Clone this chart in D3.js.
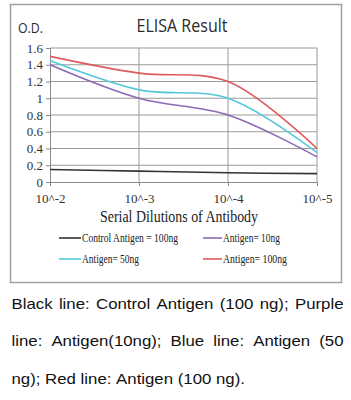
<!DOCTYPE html>
<html>
<head>
<meta charset="utf-8">
<script src="https://cdn.jsdelivr.net/npm/d3@7"></script>
<style>
  body { margin: 0; background: #fff; }
  svg { display: block; }
  .tick text { font-family: 'Liberation Serif', 'DejaVu Serif', serif; font-size: 13px; }
</style>
</head>
<body>
<div id="chart"></div>
<script>
const dilutions = ["10^-2", "10^-3", "10^-4", "10^-5"];
const yTicks = [0, 0.2, 0.4, 0.6, 0.8, 1, 1.2, 1.4, 1.6];
const control100 = [0.15, 0.13, 0.11, 0.1];
const antigen10 = [1.4, 1.0, 0.8, 0.3];
const antigen50 = [1.45, 1.1, 1.0, 0.35];
const antigen100 = [1.5, 1.3, 1.2, 0.4];
const seriesNames = ["Control Antigen = 100ng", "Antigen= 10ng", "Antigen= 50ng", "Antigen= 100ng"];
const seriesColors = ["#333333", "#8d69b5", "#52c8d8", "#df5b5e"];
const captionLines = [
  "Black line: Control Antigen (100 ng); Purple",
  "line: Antigen(10ng); Blue line: Antigen (50",
  "ng); Red line: Antigen (100 ng).",
];

const WIDTH = 351, HEIGHT = 400;
const PLOT = { LEFT: 50, RIGHT: 317, TOP: 48, BOTTOM: 182 };
const SERIF = "'Liberation Serif', 'DejaVu Serif', serif";

const svg = d3.select("#chart").append("svg")
  .attr("width", WIDTH).attr("height", HEIGHT);

// outer frame
svg.append("rect")
  .attr("x", 10.5).attr("y", 4.5).attr("width", 331).attr("height", 278)
  .attr("fill", "#fff").attr("stroke", "#a0a0a0").attr("stroke-width", 1.5);

const x = d3.scalePoint(dilutions, [PLOT.LEFT, PLOT.RIGHT]);
const y = d3.scaleLinear([0, 1.6], [PLOT.BOTTOM, PLOT.TOP]);

// grid
svg.append("g").selectAll("line").data(yTicks.slice(1)).join("line")
  .attr("x1", PLOT.LEFT).attr("x2", PLOT.RIGHT)
  .attr("y1", (d) => y(d)).attr("y2", (d) => y(d))
  .attr("stroke", "#9a9a9a").attr("stroke-width", 1);
svg.append("g").selectAll("line").data(dilutions.slice(1)).join("line")
  .attr("x1", (d) => x(d)).attr("x2", (d) => x(d))
  .attr("y1", PLOT.TOP).attr("y2", PLOT.BOTTOM)
  .attr("stroke", "#9a9a9a").attr("stroke-width", 1);

// axes
const yAxis = svg.append("g")
  .attr("transform", `translate(${PLOT.LEFT},0)`)
  .call(d3.axisLeft(y).tickValues(yTicks).tickSize(4).tickPadding(3)
    .tickFormat((d) => d3.format("~g")(d)));
const xAxis = svg.append("g")
  .attr("transform", `translate(0,${PLOT.BOTTOM})`)
  .call(d3.axisBottom(x).tickSize(4).tickPadding(8));
[xAxis, yAxis].forEach((g) => {
  g.select(".domain").attr("stroke", "#8a8a8a");
  g.selectAll(".tick line").attr("stroke", "#8a8a8a");
  g.selectAll("text").attr("fill", "#333");
});

// lines
const allSeries = [control100, antigen10, antigen50, antigen100];
const line = d3.line()
  .x((d, i) => x(dilutions[i]))
  .y((d) => y(d))
  .curve(d3.curveCatmullRom.alpha(0.5));
svg.append("g").selectAll("path").data(allSeries).join("path")
  .attr("d", line)
  .attr("fill", "none")
  .attr("stroke", (d, i) => seriesColors[i])
  .attr("stroke-width", 1.6);

// titles
svg.append("text").attr("x", 182).attr("y", 32)
  .attr("text-anchor", "middle")
  .style("font-family", "'Open Sans', 'Noto Sans', sans-serif")
  .style("font-size", "18px").attr("fill", "#2a2a2a")
  .attr("textLength", 91).attr("lengthAdjust", "spacingAndGlyphs")
  .text("ELISA Result");
svg.append("text").attr("x", 18).attr("y", 33)
  .style("font-family", "'Open Sans', 'Noto Sans', sans-serif")
  .style("font-size", "14px").attr("fill", "#2a2a2a")
  .attr("textLength", 25).attr("lengthAdjust", "spacingAndGlyphs")
  .text("O.D.");
svg.append("text").attr("x", 179).attr("y", 222)
  .attr("text-anchor", "middle")
  .style("font-family", SERIF).style("font-size", "16.5px").attr("fill", "#222")
  .attr("textLength", 158).attr("lengthAdjust", "spacingAndGlyphs")
  .text("Serial Dilutions  of Antibody");

// legend
const legendPos = [[59, 238], [203, 238], [59, 259], [203, 259]];
const legend = svg.append("g").selectAll("g").data(seriesNames).join("g")
  .attr("transform", (d, i) => `translate(${legendPos[i][0]},${legendPos[i][1]})`);
legend.append("line").attr("x1", 0).attr("x2", (d, i) => (i % 2 ? 19 : 22))
  .attr("stroke", (d, i) => seriesColors[i]).attr("stroke-width", 1.6);
legend.append("text").attr("x", (d, i) => (i % 2 ? 20 : 23)).attr("y", 4)
  .style("font-family", SERIF).style("font-size", "12px")
  .attr("fill", "#222").attr("textLength", (d, i) => [96, 57, 57, 64][i])
  .attr("lengthAdjust", "spacingAndGlyphs")
  .text((d) => d);

// caption, justified by hand, text a little stretched sideways like the source
const SX = 1.2;
const caption = svg.append("g")
  .attr("transform", `scale(${SX},1)`)
  .style("font-family", "'Liberation Sans', Arial, sans-serif")
  .style("font-size", "14px").attr("fill", "#111");
captionLines.forEach((txt, li) => {
  const words = txt.split(" ");
  const baseY = 309 + li * 37.5;
  const nodes = words.map((w) => caption.append("text").attr("y", baseY).text(w));
  const widths = nodes.map((n) => n.node().getComputedTextLength());
  const justify = li < captionLines.length - 1;
  const left = 11.5 / SX;
  const space = justify
    ? (332 / SX - d3.sum(widths)) / (words.length - 1)
    : 3.9;
  let cx = left;
  nodes.forEach((n, i) => {
    n.attr("x", cx);
    cx += widths[i] + space;
  });
});
</script>
</body>
</html>
